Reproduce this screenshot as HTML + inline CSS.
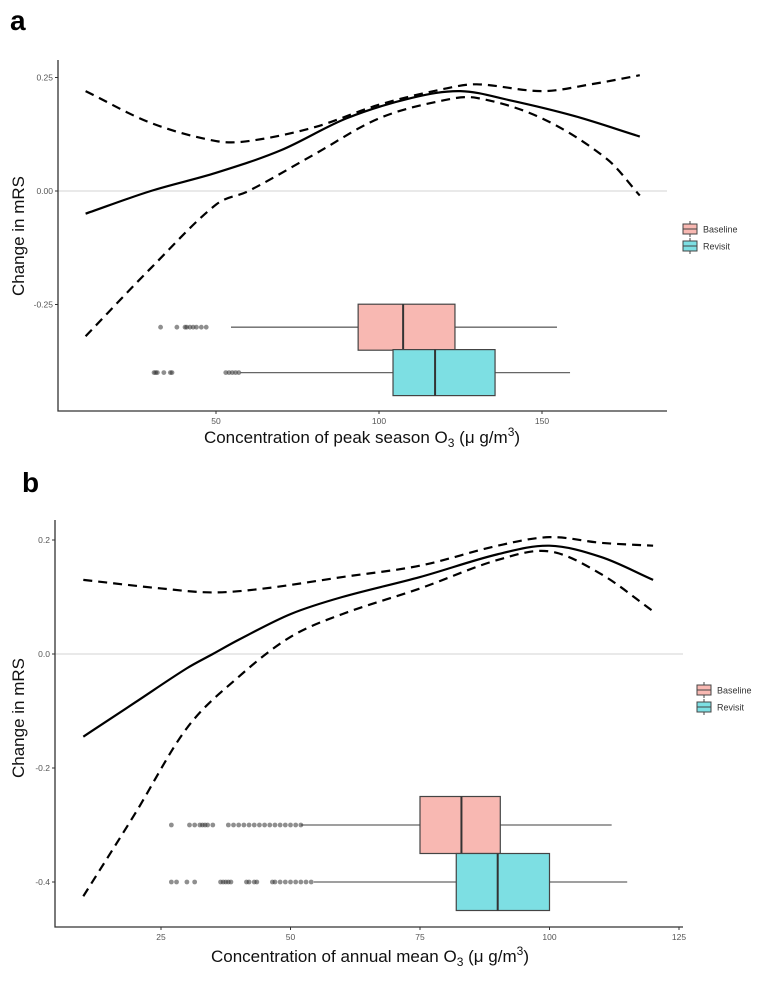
<!DOCTYPE html>
<html><head><meta charset="utf-8"><style>
body{margin:0;background:#fff;width:768px;height:981px;overflow:hidden;font-family:"Liberation Sans",sans-serif}
svg{display:block}
</style></head><body>
<svg id="fig" width="768" height="981" xmlns="http://www.w3.org/2000/svg">
<text x="10" y="30" font-size="28" font-weight="bold">a</text>
<text x="22" y="492" font-size="28" font-weight="bold">b</text>
<g id="pa"></g>
<g id="pb"></g>
</svg>
<script>
// Panel a data
const aX=[10,30,50,70,90,110,125,140,160,180];
const aMean=[-0.05,0.0,0.04,0.09,0.16,0.205,0.22,0.20,0.165,0.12];
const aUpX=[10,30,50,60,80,100,120,130,150,165,180];
const aUp=[0.22,0.15,0.11,0.11,0.14,0.19,0.225,0.235,0.22,0.235,0.255];
const aLoX=[10,30,50,60,80,100,120,130,150,170,180];
const aLo=[-0.32,-0.17,-0.03,0.0,0.08,0.16,0.20,0.205,0.16,0.07,-0.01];
const aXTicks=[50,100,150];
const aYTicks=[0.25,0.0,-0.25];
const aYTickLabels=["0.25","0.00","-0.25"];
const aBoxBase=[54.6,93.6,107.4,123.3,154.6];
const aBoxRev=[57.5,104.3,117.2,135.6,158.6];
const aOutBase=[33,38,40.5,41,42,43,44,45.5,47];
const aOutRev=[31,31.5,32,34,36,36.5,53,54,55,56,57];
// Panel b data
const bX=[10,20,30,35,40,50,60,75,90,100,110,120];
const bMean=[-0.145,-0.085,-0.025,0.0,0.025,0.07,0.10,0.135,0.175,0.19,0.17,0.13];
const bUpX=[10,25,35,45,60,75,90,100,110,120];
const bUp=[0.13,0.115,0.108,0.115,0.135,0.155,0.19,0.205,0.195,0.19];
const bLoX=[10,20,30,40,50,60,75,90,100,110,120];
const bLo=[-0.425,-0.28,-0.13,-0.04,0.03,0.07,0.115,0.165,0.18,0.14,0.075];
const bXTicks=[25,50,75,100,125];
const bYTicks=[0.2,0.0,-0.2,-0.4];
const bYTickLabels=["0.2","0.0","-0.2","-0.4"];
const bBoxBase=[52,75,83,90.5,112];
const bBoxRev=[54.5,82,90,100,115];
const bOutBase=[27,30.5,31.5,32.5,33,33.5,34,35,38,39,40,41,42,43,44,45,46,47,48,49,50,51,52];
const bOutRev=[27,28,30,31.5,36.5,37,37.5,38,38.5,41.5,42,43,43.5,46.5,47,48,49,50,51,52,53,54];

const NS="http://www.w3.org/2000/svg";
function mk(p,t,a){const e=document.createElementNS(NS,t);for(const k in a)e.setAttribute(k,a[k]);p.appendChild(e);return e;}
function path(xs,ys,sx,sy){
const n=xs.length,m=[];
for(let i=0;i<n;i++){const a=Math.max(0,i-1),b=Math.min(n-1,i+1);m.push((ys[b]-ys[a])/(xs[b]-xs[a]));}
let d="M"+sx(xs[0])+","+sy(ys[0]);
for(let i=0;i<n-1;i++){const h=(xs[i+1]-xs[i])/3;
d+=" C"+sx(xs[i]+h)+","+sy(ys[i]+m[i]*h)+" "+sx(xs[i+1]-h)+","+sy(ys[i+1]-m[i+1]*h)+" "+sx(xs[i+1])+","+sy(ys[i+1]);}
return d;}

function panel(g,o){
const sx=v=>o.x0+v*o.kx, sy=v=>o.y0-v*o.ky;
let e;
e=mk(g,"line",{x1:o.L,x2:o.R,y1:sy(0),y2:sy(0),stroke:"#dcdcdc","stroke-width":1.2});


[[o.base,o.baseY,"#f8b8b2","baseline-box"],[o.rev,o.revY,"#7ddfe3","revisit-box"]].forEach(([b,cy,col,nm])=>{
const h=o.bh;
e=mk(g,"line",{x1:sx(b[0]),x2:sx(b[4]),y1:sy(cy),y2:sy(cy),stroke:"#666","stroke-width":1.3});


e=mk(g,"rect",{x:sx(b[1]),y:sy(cy)-h/2,width:sx(b[3])-sx(b[1]),height:h,fill:col,stroke:"#444","stroke-width":1.2});


e=mk(g,"line",{x1:sx(b[2]),x2:sx(b[2]),y1:sy(cy)-h/2,y2:sy(cy)+h/2,stroke:"#333","stroke-width":2});


});
[[o.outB,o.baseY],[o.outR,o.revY]].forEach(([arr,cy])=>arr.forEach(v=>{
e=mk(g,"circle",{cx:sx(v),cy:sy(cy),r:2.4,fill:"#333","fill-opacity":0.55});


}));
e=mk(g,"path",{d:path(o.upX,o.up,sx,sy),fill:"none",stroke:"#000","stroke-width":2.2,"stroke-dasharray":"9,6"});


e=mk(g,"path",{d:path(o.loX,o.lo,sx,sy),fill:"none",stroke:"#000","stroke-width":2.2,"stroke-dasharray":"9,6"});


e=mk(g,"path",{d:path(o.mX,o.m,sx,sy),fill:"none",stroke:"#000","stroke-width":2.2});


e=mk(g,"path",{d:"M"+o.L+","+o.T+" V"+o.B+" H"+o.R,fill:"none",stroke:"#333","stroke-width":1.3});


o.xt.forEach(v=>{
e=mk(g,"line",{x1:sx(v),x2:sx(v),y1:o.B,y2:o.B+3,stroke:"#333"});


e=mk(g,"text",{x:sx(v),y:o.B+13,"font-size":8.5,fill:"#555","text-anchor":"middle"});e.textContent=v;


});
o.yt.forEach((v,i)=>{
e=mk(g,"line",{x1:o.L-3,x2:o.L,y1:sy(v),y2:sy(v),stroke:"#333"});


e=mk(g,"text",{x:o.L-5,y:sy(v)+3,"font-size":8.5,fill:"#555","text-anchor":"end"});e.textContent=o.ytl[i];


});
e=mk(g,"text",{x:0,y:0,"font-size":17,fill:"#111","text-anchor":"middle",transform:"translate("+o.ytX+","+o.ytY+") rotate(-90)"});e.textContent="Change in mRS";


e=mk(g,"text",{x:o.xtX,y:o.xtY,"font-size":17,fill:"#111","text-anchor":"middle"});
e.innerHTML=o.xtitle+' O<tspan font-size="12" dy="4">3</tspan><tspan dy="-4"> (μ g/m</tspan><tspan font-size="12" dy="-7">3</tspan><tspan dy="7">)</tspan>';


[["Baseline","#f8b8b2",o.lgY],["Revisit","#7ddfe3",o.lgY+17]].forEach(([t,c,y])=>{
e=mk(g,"line",{x1:o.lgX+7,x2:o.lgX+7,y1:y-8,y2:y+8,stroke:"#444"});


e=mk(g,"rect",{x:o.lgX,y:y-5,width:14,height:10,fill:c,stroke:"#444"});


e=mk(g,"line",{x1:o.lgX,x2:o.lgX+14,y1:y,y2:y,stroke:"#444"});


e=mk(g,"text",{x:o.lgX+20,y:y+3.5,"font-size":9,fill:"#333"});e.textContent=t;


});
}
panel(document.getElementById('pa'),{x0:53,kx:3.26,y0:191,ky:454,L:58,R:667,T:60,B:411,bh:46,
base:aBoxBase,rev:aBoxRev,baseY:-0.30,revY:-0.40,outB:aOutBase,outR:aOutRev,
mX:aX,m:aMean,upX:aUpX,up:aUp,loX:aLoX,lo:aLo,xt:aXTicks,yt:aYTicks,ytl:aYTickLabels,
ytX:24,ytY:236,xtX:362,xtY:443,xtitle:"Concentration of peak season",lgX:683,lgY:229});
panel(document.getElementById('pb'),{x0:31.5,kx:5.18,y0:654,ky:570,L:55,R:683,T:520,B:927,bh:57,
base:bBoxBase,rev:bBoxRev,baseY:-0.30,revY:-0.40,outB:bOutBase,outR:bOutRev,
mX:bX,m:bMean,upX:bUpX,up:bUp,loX:bLoX,lo:bLo,xt:bXTicks,yt:bYTicks,ytl:bYTickLabels,
ytX:24,ytY:718,xtX:370,xtY:962,xtitle:"Concentration of annual mean",lgX:697,lgY:690});
</script>
</body></html>
